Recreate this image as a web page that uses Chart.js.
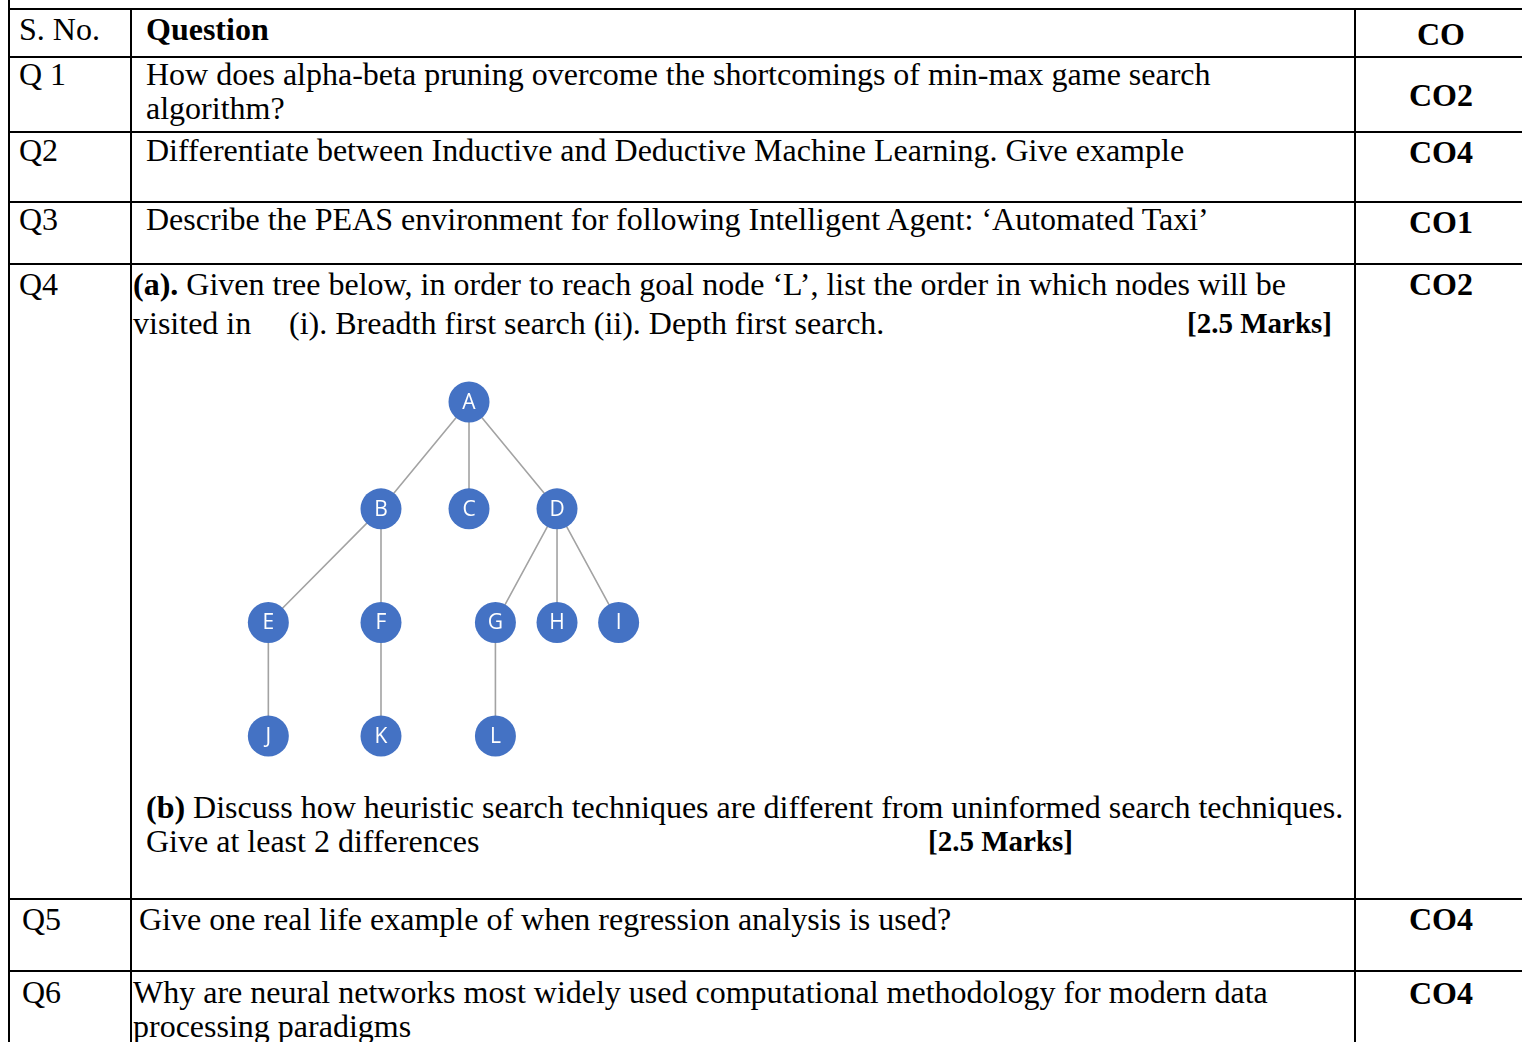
<!DOCTYPE html>
<html>
<head>
<meta charset="utf-8">
<script src="https://cdn.jsdelivr.net/npm/chart.js@4.4.1/dist/chart.umd.min.js"></script>
<style>
body { margin:0; width:1522px; height:1042px; overflow:hidden; background:#fff; position:relative;
       font-family:'Liberation Serif','Times New Roman',serif; color:#000; }
.ln { position:absolute; background:#000; }
.t { position:absolute; font-size:32px; line-height:33px; white-space:nowrap; }
.c { transform:translateX(-50%); font-weight:bold; }
.m { font-size:29px; font-weight:bold; }
#tree { position:absolute; left:240px; top:370px; }
</style>
</head>
<body>
<div id="sheet"></div>
<canvas id="tree" width="420" height="400"></canvas>
<script>
// tree data
var nodeLabels = ['A','B','C','D','E','F','G','H','I','J','K','L'];
var nodeX = [0, -1, 0, 1, -2.28, -1, 0.3, 1, 1.7, -2.28, -1, 0.3];
var nodeY = [0, 0.96, 0.96, 0.96, 1.98, 1.98, 1.98, 1.98, 1.98, 3, 3, 3];
var edges = [['A','B'],['A','C'],['A','D'],['B','E'],['B','F'],['D','G'],['D','H'],['D','I'],['E','J'],['F','K'],['G','L']];

// table text
var qNumbers = ['S. No.','Q 1','Q2','Q3','Q4','Q5','Q6'];
var coValues = ['CO','CO2','CO4','CO1','CO2','CO4','CO4'];

var rowLines = [8, 56, 131, 201, 263, 898, 970];
var colLines = [8, 130, 1354];

var sheet = document.getElementById('sheet');
function line(x, y, w, h) {
    var d = document.createElement('div');
    d.className = 'ln';
    d.style.left = x + 'px'; d.style.top = y + 'px';
    d.style.width = w + 'px'; d.style.height = h + 'px';
    sheet.appendChild(d);
}
rowLines.forEach(function (y) { line(8, y, 1514, 2); });
colLines.forEach(function (x, i) { line(x, i === 0 ? 0 : 8, 2, 1042); });

function txt(html, x, base, cls, right) {
    var d = document.createElement('div');
    d.className = 't' + (cls ? ' ' + cls : '');
    d.innerHTML = html;
    d.style.top = (base - 26) + 'px';
    if (right) d.style.right = (1522 - x) + 'px';
    else d.style.left = x + 'px';
    sheet.appendChild(d);
}

var numX = [19, 19, 19, 19, 19, 22, 22];
var numBase = [39, 84, 160, 229, 294, 929, 1002];
var coBase = [44, 105, 162, 232, 294, 929, 1003];
qNumbers.forEach(function (q, i) {
    txt(q, numX[i], numBase[i]);
    txt(coValues[i], 1441, coBase[i], 'c');
});

txt('<b>Question</b>', 146, 39);
txt('How does alpha-beta pruning overcome the shortcomings of min-max game search', 146, 84);
txt('algorithm?', 146, 118);
txt('Differentiate between Inductive and Deductive Machine Learning. Give example', 146, 160);
txt('Describe the PEAS environment for following Intelligent Agent: \u2018Automated Taxi\u2019', 146, 229);
txt('<b>(a).</b> Given tree below, in order to reach goal node \u2018L\u2019, list the order in which nodes will be', 133, 294);
txt('visited in', 133, 333);
txt('(i). Breadth first search (ii). Depth first search.', 289, 333);
txt('[2.5 Marks]', 1332, 333, 'm', true);
txt('<b>(b)</b> Discuss how heuristic search techniques are different from uninformed search techniques.', 146, 817);
txt('Give at least 2 differences', 146, 851);
txt('[2.5 Marks]', 1073, 851, 'm', true);
txt('Give one real life example of when regression analysis is used?', 139, 929);
txt('Why are neural networks most widely used computational methodology for modern data', 133, 1002);
txt('processing paradigms', 133, 1036);

// tree chart
document.addEventListener('DOMContentLoaded', function () {
    var nodes = nodeLabels.map(function (n, i) { return { x: nodeX[i], y: nodeY[i] }; });
    var edgeData = [];
    edges.forEach(function (e) {
        var a = nodeLabels.indexOf(e[0]), b = nodeLabels.indexOf(e[1]);
        edgeData.push({ x: nodeX[a], y: nodeY[a] }, { x: nodeX[b], y: nodeY[b] }, { x: null, y: null });
    });

    var labelPlugin = {
        id: 'nodeLabels',
        afterDatasetsDraw: function (chart) {
            var ctx = chart.ctx;
            var meta = chart.getDatasetMeta(1);
            ctx.save();
            ctx.fillStyle = '#ffffff';
            ctx.font = '21px "Open Sans", "Noto Sans", sans-serif';
            ctx.textAlign = 'center';
            ctx.textBaseline = 'middle';
            meta.data.forEach(function (el, i) {
                ctx.fillText(nodeLabels[i], el.x, el.y + 1);
            });
            ctx.restore();
        }
    };

    new Chart(document.getElementById('tree'), {
        type: 'scatter',
        data: {
            datasets: [{
                data: edgeData,
                showLine: true,
                spanGaps: false,
                borderColor: '#a3a3a3',
                borderWidth: 1.6,
                pointRadius: 0,
                order: 2
            }, {
                data: nodes,
                pointRadius: 20.5,
                pointHoverRadius: 20.5,
                backgroundColor: '#4472c4',
                borderWidth: 0,
                order: 1
            }]
        },
        options: {
            responsive: false,
            animation: false,
            devicePixelRatio: 1,
            layout: { padding: 0, autoPadding: false },
            plugins: { legend: { display: false }, tooltip: { enabled: false } },
            events: [],
            scales: {
                x: { display: false, min: -2.602, max: 2.170 },
                y: { display: false, reverse: true, min: -0.287, max: 3.305 }
            }
        },
        plugins: [labelPlugin]
    });
});
</script>
</body>
</html>
